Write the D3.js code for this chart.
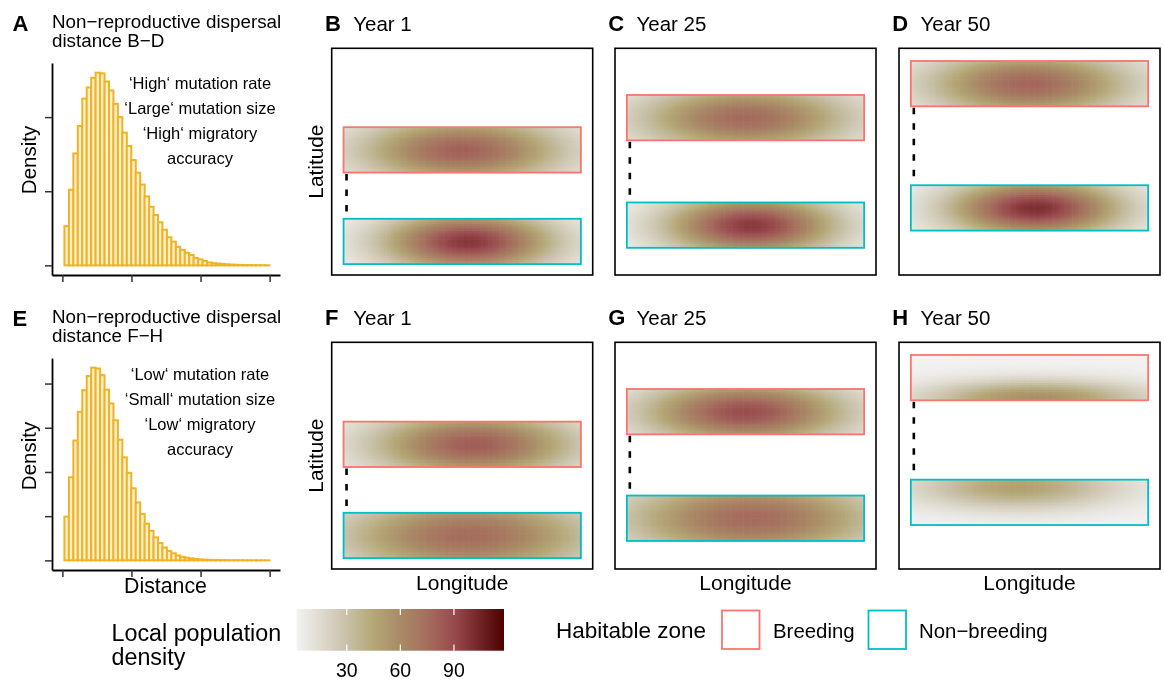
<!DOCTYPE html>
<html>
<head>
<meta charset="utf-8">
<script src="https://cdn.jsdelivr.net/npm/d3@7"></script>
<style>
  body { margin: 0; background: #fff; }
  #wrap { position: relative; width: 1164px; height: 681px; }
  #heat, #fig { position: absolute; left: 0; top: 0; }
  text { font-family: "Liberation Sans", Arial, Helvetica, sans-serif; fill: #000; }
</style>
</head>
<body>
<div id="wrap">
  <canvas id="heat" width="1164" height="681"></canvas>
  <svg id="fig" width="1164" height="681"></svg>
</div>
<script>
// ---------- dispersal-distance histograms ----------
const distanceTicks = [0, 1, 2, 3];
const binStart = 0.03;
const binWidth = 0.0645;
const densityHigh = [0.53, 1.02, 1.51, 1.88, 2.25, 2.40, 2.53, 2.60, 2.59, 2.48,
  2.36, 2.18, 2.00, 1.79, 1.61, 1.42, 1.25, 1.09, 0.93, 0.79,
  0.68, 0.58, 0.48, 0.38, 0.32, 0.25, 0.21, 0.17, 0.14, 0.10,
  0.08, 0.06, 0.04, 0.03, 0.025, 0.02, 0.015, 0.01, 0.008, 0.006,
  0.005, 0.004, 0.003, 0.002, 0.002, 0.001];
const densityLow = [0.99, 1.88, 2.71, 3.36, 3.85, 4.17, 4.36, 4.34, 4.19, 3.86,
  3.55, 3.17, 2.73, 2.33, 1.98, 1.63, 1.31, 1.05, 0.83, 0.67,
  0.52, 0.39, 0.29, 0.21, 0.16, 0.11, 0.08, 0.06, 0.045, 0.03,
  0.023, 0.015, 0.012, 0.009, 0.007, 0.005, 0.004, 0.003, 0.002, 0.002,
  0.001, 0.001, 0.001, 0.0005, 0.0005, 0.0003];
const densityTicksHigh = [0, 1, 2];
const densityTicksLow = [0, 1, 2, 3, 4];
const notesHigh = ["‘High‘ mutation rate", "‘Large‘ mutation size", "‘High‘ migratory", "accuracy"];
const notesLow = ["‘Low‘ mutation rate", "‘Small‘ mutation size", "‘Low‘ migratory", "accuracy"];

// ---------- habitable zones per map panel ----------
const panelLetters = ["B", "C", "D", "F", "G", "H"];
const panelYears = [1, 25, 50, 1, 25, 50];
const zoneLon = [0, 40];
const breedingLat = [[22.6, 32.6], [29.7, 39.7], [37.2, 47.2], [22.5, 32.5], [29.7, 39.7], [37.2, 47.2]];
const nonBreedingLat = [[2.4, 12.4], [6.0, 16.0], [9.8, 19.8], [2.4, 12.4], [6.2, 16.2], [9.7, 19.7]];
const migrationLon = 0.5;

// population clouds: peak density, centre longitude, latitude shift from zone middle, spreads
const breedingPeak = [80, 76, 78, 82, 88, 58];
const breedingLonCentre = [20, 20, 20, 22, 20, 21];
const breedingLatShift = [0, 0, 0, 0, 0, -4.5];
const breedingLonSpread = [12, 12.5, 12, 12, 12, 13];
const breedingLatSpread = [5, 5, 5, 5, 4.8, 2.8];
const nonBreedingPeak = [97, 96, 100, 75, 76, 48];
const nonBreedingLonCentre = [21, 21, 21, 21, 21, 18];
const nonBreedingLatShift = [0, 0, 0, 0, 0, 3.5];
const nonBreedingLonSpread = [10, 10, 10, 15, 15, 12];
const nonBreedingLatSpread = [4.5, 4.5, 4.3, 6, 6, 3.5];

// ---------- colour scale ----------
const densityStops = [2, 30, 45, 60, 75, 90, 118];
const densityColours = ["#f2f2f2", "#c8c1a9", "#b4a776", "#a98a66", "#a56e5e", "#994a4d", "#4c0000"];
const colourTicks = [30, 60, 90];
const zoneNames = ["Breeding", "Non−breeding"];
const zoneColours = ["#F8766D", "#00BFC4"];

const svg = d3.select("#fig");
const ctx = document.getElementById("heat").getContext("2d");
const fill = d3.scaleLinear().domain(densityStops).range(densityColours).clamp(true);

// ---------- histograms ----------
function histogram(top, dens, yTicks, yMax, letter, sub, notes, showXTitle, densityY, noteY) {
  const x = d3.scaleLinear().domain([-0.15, 3.15]).range([52, 280]);
  const y = d3.scaleLinear().domain([-0.05 * yMax, 1.05 * yMax]).range([top + 212, top]);
  const g = svg.append("g");
  g.selectAll("rect.bar").data(dens).join("rect")
    .attr("x", (d, i) => x(binStart + i * binWidth))
    .attr("width", x(binWidth) - x(0))
    .attr("y", d => y(d))
    .attr("height", d => y(0) - y(d))
    .attr("fill", "#fbf0d0")
    .attr("stroke", "#f0b323")
    .attr("stroke-width", 2);
  const yAxis = d3.axisLeft(y).tickValues(yTicks).tickFormat("").tickSize(7).tickSizeOuter(0);
  const xAxis = d3.axisBottom(x).tickValues(distanceTicks).tickFormat("").tickSize(7).tickSizeOuter(0);
  const ya = g.append("g").attr("transform", "translate(52,0)").call(yAxis);
  const xa = g.append("g").attr("transform", `translate(0,${top + 212})`).call(xAxis);
  [ya, xa].forEach(a => {
    a.select(".domain").attr("stroke", "#000").attr("stroke-width", 1.8);
    a.selectAll(".tick line").attr("stroke", "#333").attr("stroke-width", 1.5);
  });
  svg.append("text").attr("x", 12.5).attr("y", top - 32).attr("font-size", 22)
    .attr("font-weight", "bold").text(letter);
  svg.append("text").attr("x", 52).attr("y", top - 35).attr("font-size", 18.8)
    .text("Non−reproductive dispersal");
  svg.append("text").attr("x", 52).attr("y", top - 16.5).attr("font-size", 18.8).text(sub);
  svg.append("text").attr("transform", `translate(35.5,${densityY}) rotate(-90)`)
    .attr("text-anchor", "middle").attr("font-size", 20.5).text("Density");
  notes.forEach((t, i) => svg.append("text").attr("x", 200).attr("y", noteY + i * 25)
    .attr("text-anchor", "middle").attr("font-size", 16.5).text(t));
  if (showXTitle) svg.append("text").attr("x", 165.5).attr("y", 592.5)
    .attr("text-anchor", "middle").attr("font-size", 21.3).text("Distance");
}
histogram(63, densityHigh, densityTicksHigh, 2.6, "A", "distance B−D", notesHigh, false, 160, 89.3);
histogram(358, densityLow, densityTicksLow, 4.36, "E", "distance F−H", notesLow, true, 456, 380);

// ---------- map panels ----------
const boxLefts = [331.7, 615, 899];
const boxTops = [48.3, 342.3];
const boxW = 261, boxH = 226.7;

function cloud(lon, lat, zone, peak, lc, shift, sl, sb) {
  const mid = (zone[0] + zone[1]) / 2 + shift;
  return 2 + (peak - 2) * Math.exp(-((lon - lc) ** 2) / (2 * sl * sl) - ((lat - mid) ** 2) / (2 * sb * sb));
}

panelLetters.forEach((letter, p) => {
  const col = p % 3, row = Math.floor(p / 3);
  const left = boxLefts[col], top = boxTops[row];
  const x = d3.scaleLinear().domain([-2, 42]).range([left, left + boxW]);
  const y = d3.scaleLinear().domain([0, 50]).range([top + boxH, top]);
  const g = svg.append("g");

  // density raster inside each zone
  const zones = [
    { lat: breedingLat[p], peak: breedingPeak[p], lc: breedingLonCentre[p], sh: breedingLatShift[p], sl: breedingLonSpread[p], sb: breedingLatSpread[p] },
    { lat: nonBreedingLat[p], peak: nonBreedingPeak[p], lc: nonBreedingLonCentre[p], sh: nonBreedingLatShift[p], sl: nonBreedingLonSpread[p], sb: nonBreedingLatSpread[p] }
  ];
  const dLon = 0.4, dLat = 0.5;
  zones.forEach(z => {
    for (let lon = zoneLon[0]; lon < zoneLon[1] - 1e-9; lon += dLon) {
      for (let lat = z.lat[0]; lat < z.lat[1] - 1e-9; lat += dLat) {
        const v = cloud(lon + dLon / 2, lat + dLat / 2, z.lat, z.peak, z.lc, z.sh, z.sl, z.sb);
        ctx.fillStyle = fill(v);
        const x0 = x(lon), x1 = x(lon + dLon), y0 = y(lat + dLat), y1 = y(lat);
        ctx.fillRect(x0, y0, x1 - x0 + 0.6, y1 - y0 + 0.6);
      }
    }
  });

  // migration link
  g.append("line")
    .attr("x1", x(migrationLon)).attr("x2", x(migrationLon))
    .attr("y1", y(breedingLat[p][0]) + 1.5).attr("y2", y(nonBreedingLat[p][1]) - 1)
    .attr("stroke", "#000").attr("stroke-width", 2.6).attr("stroke-dasharray", "6.5 9");

  // zone outlines
  [breedingLat[p], nonBreedingLat[p]].forEach((lat, k) => {
    g.append("rect")
      .attr("x", x(zoneLon[0])).attr("width", x(zoneLon[1]) - x(zoneLon[0]))
      .attr("y", y(lat[1])).attr("height", y(lat[0]) - y(lat[1]))
      .attr("fill", "none").attr("stroke", zoneColours[k]).attr("stroke-width", 1.8);
  });

  // panel border
  g.append("rect").attr("x", left).attr("y", top).attr("width", boxW).attr("height", boxH)
    .attr("fill", "none").attr("stroke", "#000").attr("stroke-width", 1.6);

  // titles
  svg.append("text").attr("x", left - 6.7).attr("y", top - 17.6).attr("font-size", 22)
    .attr("font-weight", "bold").text(letter);
  svg.append("text").attr("x", left + 21.5).attr("y", top - 17.6).attr("font-size", 20.5)
    .text("Year " + panelYears[p]);
  if (col === 0) svg.append("text").attr("transform", `translate(${left - 9},${top + boxH / 2}) rotate(-90)`)
    .attr("text-anchor", "middle").attr("font-size", 20.8).text("Latitude");
  if (row === 1) svg.append("text").attr("x", left + boxW / 2).attr("y", 589.5)
    .attr("text-anchor", "middle").attr("font-size", 21).text("Longitude");
});

// ---------- colour bar legend ----------
const barX = d3.scaleLinear().domain([2, 118]).range([296.7, 504]);
const defs = svg.append("defs");
const grad = defs.append("linearGradient").attr("id", "densGrad");
densityStops.forEach((s, i) => grad.append("stop")
  .attr("offset", (barX(s) - barX(2)) / (barX(118) - barX(2)))
  .attr("stop-color", densityColours[i]));
svg.append("rect").attr("x", barX(2)).attr("y", 609).attr("width", barX(118) - barX(2))
  .attr("height", 41.7).attr("fill", "url(#densGrad)");
colourTicks.forEach(t => {
  svg.append("line").attr("x1", barX(t)).attr("x2", barX(t)).attr("y1", 609).attr("y2", 615)
    .attr("stroke", "#fff").attr("stroke-width", 1.2);
  svg.append("line").attr("x1", barX(t)).attr("x2", barX(t)).attr("y1", 644.5).attr("y2", 650.7)
    .attr("stroke", "#fff").attr("stroke-width", 1.2);
  svg.append("text").attr("x", barX(t)).attr("y", 677.3).attr("text-anchor", "middle")
    .attr("font-size", 19.5).text(t);
});
svg.append("text").attr("x", 111.5).attr("y", 640.7).attr("font-size", 23.3).text("Local population");
svg.append("text").attr("x", 111.5).attr("y", 665).attr("font-size", 23.3).text("density");

// ---------- habitable zone legend ----------
svg.append("text").attr("x", 556).attr("y", 638.3).attr("font-size", 22.5).text("Habitable zone");
const keyX = [722, 868.5], labelX = [773, 919];
zoneNames.forEach((n, i) => {
  svg.append("rect").attr("x", keyX[i]).attr("y", 610.5).attr("width", 37.5).attr("height", 38.5)
    .attr("fill", "none").attr("stroke", zoneColours[i]).attr("stroke-width", 1.8);
  svg.append("text").attr("x", labelX[i]).attr("y", 637.5).attr("font-size", 20.4).text(n);
});
</script>
</body>
</html>
